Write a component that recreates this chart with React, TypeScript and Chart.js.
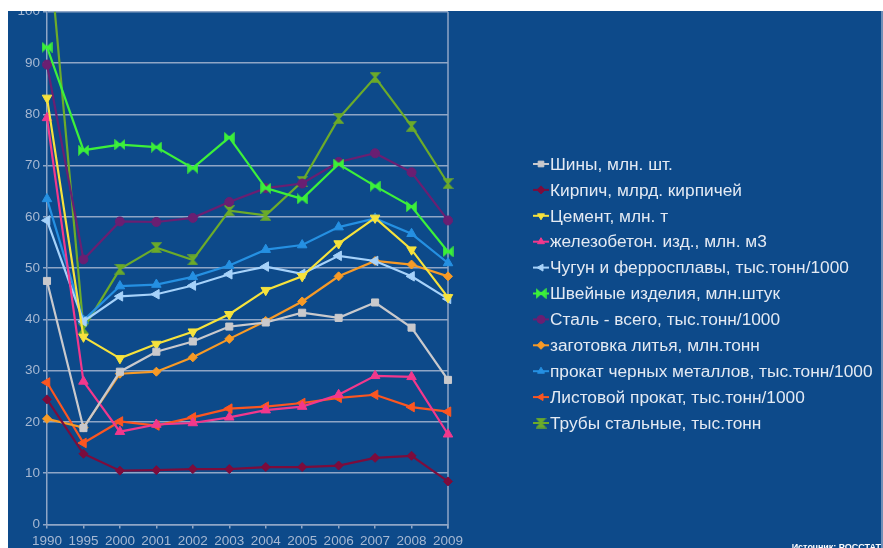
import React, { useEffect, useRef } from 'react';
import { Chart, registerables } from 'chart.js';
import { drawPoint } from 'chart.js/helpers';

Chart.register(...registerables);

const categories = ['1990', '1995', '2000', '2001', '2002', '2003', '2004', '2005', '2006', '2007', '2008', '2009'];

const shiny = [47.5, 18.8, 29.8, 33.7, 35.7, 38.6, 39.4, 41.3, 40.3, 43.3, 38.4, 28.2];
const kirpich = [24.4, 13.8, 10.5, 10.6, 10.8, 10.8, 11.2, 11.2, 11.5, 13.0, 13.4, 8.4];
const cement = [83.2, 36.6, 32.4, 35.2, 37.6, 41.0, 45.7, 48.4, 54.8, 59.8, 53.6, 44.3];
const zhelezobeton = [79.3, 27.9, 18.1, 19.5, 19.8, 20.9, 22.3, 23.0, 25.3, 29.0, 28.8, 17.6];
const chugun = [59.3, 39.6, 44.5, 44.9, 46.6, 48.8, 50.3, 48.9, 52.4, 51.4, 48.4, 44.0];
const shveinye = [93.1, 73.0, 74.1, 73.6, 69.5, 75.5, 65.6, 63.5, 70.3, 66.0, 62.0, 53.2];
const stal = [89.7, 51.7, 59.1, 59.0, 59.8, 62.9, 65.6, 66.5, 70.7, 72.4, 68.7, 59.3];
const zagotovka = [20.6, 18.9, 29.4, 29.8, 32.6, 36.2, 39.7, 43.5, 48.4, 51.4, 50.7, 48.4];
const prokat = [63.5, 39.8, 46.5, 46.8, 48.3, 50.5, 53.6, 54.5, 58.0, 59.7, 56.7, 51.0];
const listovoi = [27.7, 15.9, 20.1, 19.3, 20.9, 22.6, 23.0, 23.7, 24.7, 25.3, 22.9, 22.0];
const truby = [117, 38.2, 49.8, 54.0, 51.6, 61.2, 60.3, 66.9, 79.2, 87.2, 77.7, 66.5];

const seriesNames = [
  'Шины, млн. шт.',
  'Кирпич, млрд. кирпичей',
  'Цемент, млн. т',
  'железобетон. изд., млн. м3',
  'Чугун и ферросплавы, тыс.тонн/1000',
  'Швейные изделия, млн.штук',
  'Сталь - всего, тыс.тонн/1000',
  'заготовка литья, млн.тонн',
  'прокат черных металлов, тыс.тонн/1000',
  'Листовой прокат, тыс.тонн/1000',
  'Трубы стальные, тыс.тонн',
];

const yTicks = { min: 0, max: 100, step: 10 };

const BG = '#0d4a8a';
const GRID = '#8fa6c6';
const TICK_TEXT = '#a6b8d2';
const AXIS_FONT = "'Liberation Sans', Arial, sans-serif";

function makeBowtie(color: string, vertical: boolean) {
  const s = 11;
  const c = document.createElement('canvas');
  c.width = s;
  c.height = s;
  const ctx = c.getContext('2d')!;
  ctx.fillStyle = color;
  ctx.strokeStyle = color;
  ctx.lineWidth = 1.5;
  ctx.beginPath();
  if (!vertical) {
    ctx.moveTo(1, 1.5); ctx.lineTo(5.5, 5.5); ctx.lineTo(1, 9.5); ctx.closePath();
    ctx.moveTo(10, 1.5); ctx.lineTo(5.5, 5.5); ctx.lineTo(10, 9.5); ctx.closePath();
  } else {
    ctx.moveTo(1.5, 1); ctx.lineTo(9.5, 1); ctx.lineTo(5.5, 5.5); ctx.closePath();
    ctx.moveTo(1.5, 10); ctx.lineTo(9.5, 10); ctx.lineTo(5.5, 5.5); ctx.closePath();
  }
  ctx.fill();
  ctx.stroke();
  return c;
}

export default function App() {
  const ref = useRef<HTMLCanvasElement>(null);

  useEffect(() => {
    const colors = ['#c9c9cc', '#7c0c3c', '#f6e23c', '#f2388c', '#a6d2fa', '#3cf03a', '#6a1f72', '#f79a26', '#2590e2', '#fb5621', '#6cab2a'];
    const values = [shiny, kirpich, cement, zhelezobeton, chugun, shveinye, stal, zagotovka, prokat, listovoi, truby];
    const styles: any[] = ['rect', 'rectRot', 'triangle', 'triangle', 'triangle', makeBowtie(colors[5], false), 'circle', 'rectRot', 'triangle', 'triangle', makeBowtie(colors[10], true)];
    const rotations = [0, 0, 180, 0, 270, 0, 0, 0, 0, 270, 0];
    const radii = [5, 4.5, 5.5, 5.5, 5.5, 5, 4.5, 4.5, 5.5, 5.5, 5];

    const datasets = values.map((v, i) => ({
      label: seriesNames[i],
      data: v,
      borderColor: colors[i],
      backgroundColor: colors[i],
      borderWidth: 2.2,
      pointStyle: styles[i],
      pointRotation: rotations[i],
      pointRadius: radii[i],
      pointBorderWidth: 1,
      pointBackgroundColor: colors[i],
      pointBorderColor: colors[i],
      tension: 0,
    }));

    const decor = {
      id: 'decor',
      beforeDraw(chart: any) {
        const ctx = chart.ctx;
        ctx.save();
        ctx.fillStyle = '#ffffff';
        ctx.fillRect(0, 0, chart.width, chart.height);
        ctx.fillStyle = BG;
        ctx.fillRect(8, 11, 873, 537);
        ctx.fillStyle = '#6f8fb8';
        ctx.fillRect(881, 11, 2, 537);
        ctx.restore();
      },
      beforeDatasetsDraw(chart: any) {
        const ctx = chart.ctx;
        const a = chart.chartArea;
        ctx.save();
        ctx.strokeStyle = GRID;
        ctx.lineWidth = 1.5;
        ctx.beginPath();
        ctx.moveTo(a.right, a.top);
        ctx.lineTo(a.right, a.bottom + 4);
        ctx.stroke();
        ctx.restore();
      },
      afterDraw(chart: any) {
        const ctx = chart.ctx;
        ctx.save();
        chart.data.datasets.forEach((ds: any, i: number) => {
          const y = 164 + i * 25.9;
          ctx.strokeStyle = ds.borderColor;
          ctx.fillStyle = ds.borderColor;
          ctx.lineWidth = 2;
          ctx.beginPath();
          ctx.moveTo(533, y);
          ctx.lineTo(549, y);
          ctx.stroke();
          ctx.lineWidth = 1;
          drawPoint(ctx, { pointStyle: ds.pointStyle, rotation: ds.pointRotation || 0, radius: 4, borderWidth: 1 } as any, 541, y);
          ctx.fillStyle = '#e4eaf3';
          ctx.font = "17.3px 'Liberation Sans', Arial, sans-serif";
          ctx.textBaseline = 'middle';
          ctx.textAlign = 'left';
          ctx.fillText(ds.label, 550, y + 1);
        });
        ctx.fillStyle = '#ffffff';
        ctx.font = "bold 9px 'Liberation Sans', Arial, sans-serif";
        ctx.textBaseline = 'alphabetic';
        ctx.textAlign = 'right';
        ctx.fillText('Источник: РОССТАТ', 881, 550);
        ctx.fillStyle = '#ffffff';
        ctx.fillRect(0, 0, chart.width, 11);
        ctx.restore();
      },
    };

    const chart = new Chart(ref.current!, {
      type: 'line',
      data: { labels: categories, datasets },
      options: {
        responsive: false,
        animation: false,
        devicePixelRatio: 1,
        layout: { padding: { top: 11.75, left: 0, right: 435, bottom: 0 } },
        plugins: { legend: { display: false }, tooltip: { enabled: false } },
        scales: {
          x: {
            offset: false,
            grid: { display: true, drawOnChartArea: false, drawTicks: true, tickLength: 4, color: GRID, lineWidth: 1.5 },
            border: { display: true, color: GRID, width: 1.5 },
            ticks: { color: TICK_TEXT, font: { family: AXIS_FONT, size: 13.5 }, padding: 5, maxRotation: 0, autoSkip: false },
            afterFit(scale: any) { scale.height = 23.5; },
          },
          y: {
            min: yTicks.min,
            max: yTicks.max,
            grid: { color: GRID, lineWidth: 1.5, tickLength: 4 },
            border: { display: true, color: GRID, width: 1.5 },
            ticks: { stepSize: yTicks.step, color: TICK_TEXT, font: { family: AXIS_FONT, size: 13.5 }, padding: 3 },
            afterFit(scale: any) { scale.width = 47; },
          },
        },
      },
      plugins: [decor],
    });
    return () => chart.destroy();
  }, []);

  return (
    <div style={{ position: 'fixed', left: 0, top: 0, width: 883, height: 548, background: '#fff' }}>
      <canvas ref={ref} width={883} height={548} style={{ display: 'block', width: 883, height: 548 }} />
    </div>
  );
}
